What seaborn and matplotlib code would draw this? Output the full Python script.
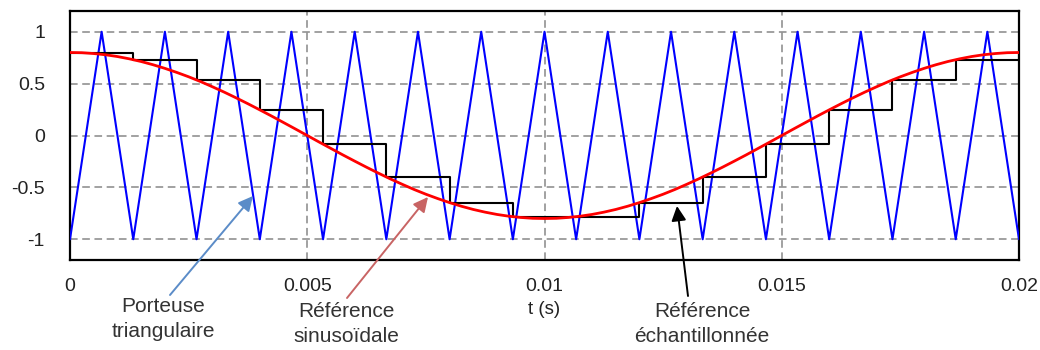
import numpy as np
import pandas as pd
import matplotlib
matplotlib.use("Agg")
import matplotlib.pyplot as plt
import seaborn as sns

# ---- data ----
carrier_values = [-1, 1, -1, 1, -1, 1, -1, 1, -1, 1, -1, 1, -1, 1, -1, 1,
                  -1, 1, -1, 1, -1, 1, -1, 1, -1, 1, -1, 1, -1, 1, -1]
sine_values = [0.800, 0.798, 0.790, 0.778, 0.761, 0.739, 0.713, 0.682, 0.647, 0.608,
               0.566, 0.520, 0.470, 0.418, 0.363, 0.306, 0.247, 0.187, 0.125, 0.063,
               0.000, -0.063, -0.125, -0.187, -0.247, -0.306, -0.363, -0.418, -0.470, -0.520,
               -0.566, -0.608, -0.647, -0.682, -0.713, -0.739, -0.761, -0.778, -0.790, -0.798,
               -0.800, -0.798, -0.790, -0.778, -0.761, -0.739, -0.713, -0.682, -0.647, -0.608,
               -0.566, -0.520, -0.470, -0.418, -0.363, -0.306, -0.247, -0.187, -0.125, -0.063,
               0.000, 0.063, 0.125, 0.187, 0.247, 0.306, 0.363, 0.418, 0.470, 0.520,
               0.566, 0.608, 0.647, 0.682, 0.713, 0.739, 0.761, 0.778, 0.790, 0.798, 0.800]
sampled_values = [0.800, 0.731, 0.535, 0.247, -0.084, -0.400, -0.647, -0.783,
                  -0.783, -0.647, -0.400, -0.084, 0.247, 0.535, 0.731, 0.800]
t_end = 0.02
x_ticks = [0, 0.005, 0.01, 0.015, 0.02]
x_tick_labels = ["0", "0.005", "0.01", "0.015", "0.02"]
y_ticks = [-1, -0.5, 0, 0.5, 1]
y_tick_labels = ["-1", "-0.5", "0", "0.5", "1"]
label_carrier = "Porteuse\ntriangulaire"
label_sine = "Référence\nsinusoïdale"
label_sampled = "Référence\néchantillonnée"
x_label = "t (s)"

carrier_df = pd.DataFrame({"t": np.linspace(0, t_end, len(carrier_values)), "v": carrier_values})
sine_df = pd.DataFrame({"t": np.linspace(0, t_end, len(sine_values)), "v": sine_values})
sampled_df = pd.DataFrame({"t": np.linspace(0, t_end, len(sampled_values)), "v": sampled_values})

sns.set_style("white")
plt.rcParams["font.family"] = ["Liberation Sans", "DejaVu Sans"]

fig = plt.figure(figsize=(10.4, 3.5), dpi=100)
ax = fig.add_axes([70 / 1040, 1 - 260 / 350, 949 / 1040, 249 / 350])

sns.lineplot(data=carrier_df, x="t", y="v", ax=ax, color="#0000ff", lw=1.5,
             estimator=None, sort=False, zorder=3)
sns.lineplot(data=sampled_df, x="t", y="v", ax=ax, color="black", lw=1.5,
             estimator=None, sort=False, drawstyle="steps-post", zorder=4)
sns.lineplot(data=sine_df, x="t", y="v", ax=ax, color="#ff0000", lw=2,
             estimator=None, sort=False, zorder=5)

ax.set_xlim(0, t_end)
ax.set_ylim(-1.2, 1.2)
ax.set_xticks(x_ticks)
ax.set_xticklabels(x_tick_labels)
ax.set_yticks(y_ticks)
ax.set_yticklabels(y_tick_labels)
ax.tick_params(axis="both", length=0, labelsize=14, colors="#222222")
ax.tick_params(axis="y", pad=18)
ax.tick_params(axis="x", pad=13)
ax.grid(True, color="#888888", linestyle=(0, (5, 3)), lw=1.1, zorder=1)
for s in ax.spines.values():
    s.set_color("black")
    s.set_linewidth(1.6)
    s.set_visible(True)

ax.set_xlabel(x_label, fontsize=13.5, color="#222222")
ax.set_ylabel("")
ax.xaxis.set_label_coords(0.5, -0.197)
ax.xaxis.label.set_va("center")


def px(x, y):
    # figure pixel (from top-left) -> data coords
    t = (x - 70) / 949 * t_end
    v = 1.2 - (y - 11) / 249 * 2.4
    return t, v


txt_kw = dict(ha="center", va="top", fontsize=15, color="#333333", linespacing=1.4,
              clip_on=False)
ax.text(*px(163, 297), label_carrier, **txt_kw)
ax.text(*px(346, 302), label_sine, **txt_kw)
ax.text(*px(702, 302), label_sampled, **txt_kw)

arrows = [((170, 295), (253, 196), "#5b8cc8"),
          ((347, 298), (428, 197), "#c86464"),
          ((688, 296), (677, 206), "black")]
for tail, head, col in arrows:
    ax.annotate("", xy=px(*head), xytext=px(*tail), xycoords="data", textcoords="data",
                annotation_clip=False,
                arrowprops=dict(arrowstyle="-|>", color=col, lw=1.4, mutation_scale=22,
                                shrinkA=0, shrinkB=0), zorder=6)

fig.savefig("out.png", dpi=100)
